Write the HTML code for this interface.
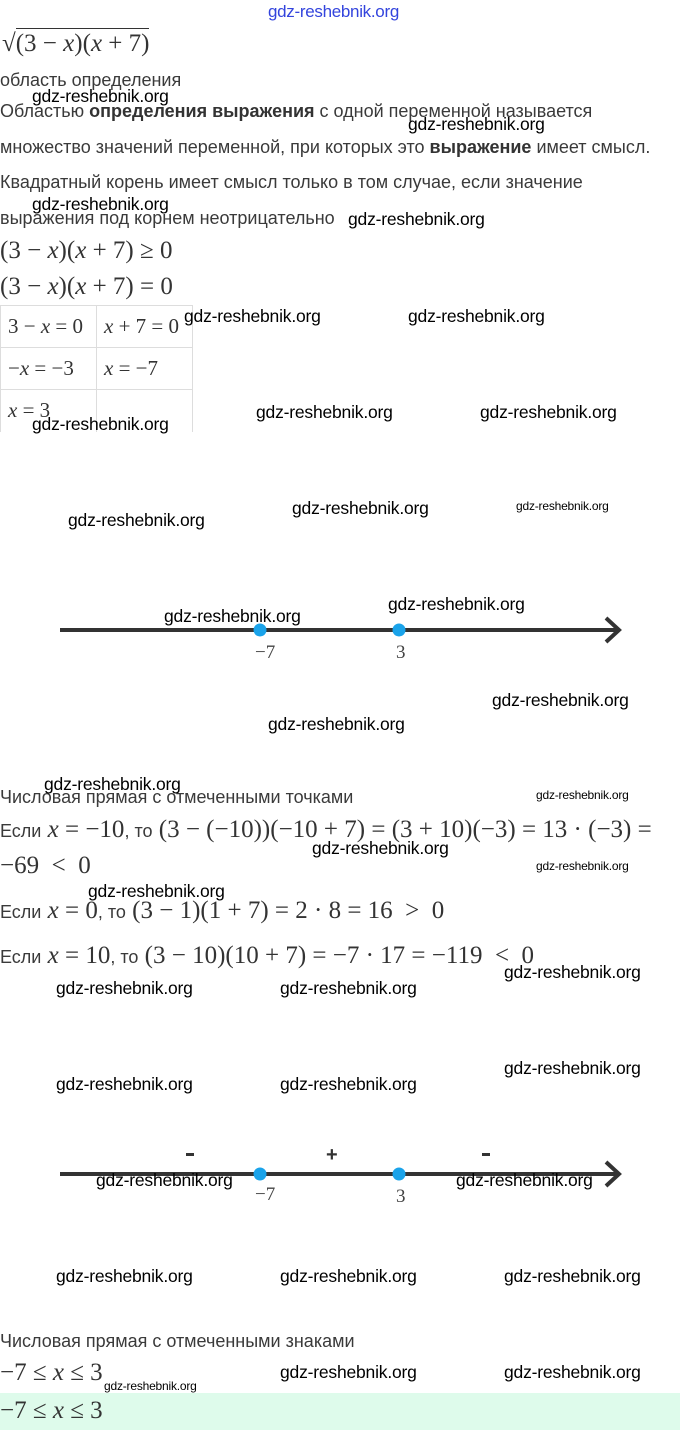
<!DOCTYPE html>
<html><head><meta charset="utf-8"><style>
html,body{margin:0;padding:0;background:#fff;}
body{width:680px;height:1430px;position:relative;overflow:hidden;font-family:"Liberation Sans","DejaVu Sans",sans-serif;color:#3a3a3a;}
.a{position:absolute;white-space:nowrap;}
.t{font-family:"Liberation Sans","DejaVu Sans",sans-serif;font-size:18px;line-height:20px;color:#3a3a3a;}
.m{font-family:"Liberation Serif",serif;font-size:25px;line-height:26px;color:#333;}
.m i{font-style:italic;}
.w{position:absolute;white-space:nowrap;font-family:"Liberation Sans",sans-serif;font-size:17.5px;line-height:20px;color:#000;letter-spacing:-0.2px;}
.ws{font-size:12px;line-height:13px;letter-spacing:-0.2px;}
b{color:#333;}
.tb{position:absolute;left:0;top:305px;border-collapse:collapse;}
.tb td{border:1px solid #ddd;width:96px;height:42px;padding:0 0 0 7px;box-sizing:border-box;font-family:"Liberation Serif",serif;font-size:21px;color:#333;}
</style></head><body>
<div class="a" style="left:268px;top:2px;font-size:17px;color:#3344dd;font-family:'Liberation Sans',sans-serif;letter-spacing:-0.3px;">gdz-reshebnik.org</div>
<div class="a m" style="left:2px;top:31px;">√<span style="border-top:1px solid #333;padding-top:1px;">(3 − <i>x</i>)(<i>x</i> + 7)</span></div>
<div class="a t" style="left:0;top:70px;">область определения</div>
<div class="a t" style="left:0;top:101px;">Областью <b>определения выражения</b> с одной переменной называется</div>
<div class="a t" style="left:0;top:137px;">множество значений переменной, при которых это <b>выражение</b> имеет смысл.</div>
<div class="a t" style="left:0;top:172px;">Квадратный корень имеет смысл только в том случае, если значение</div>
<div class="a t" style="left:0;top:208px;">выражения под корнем неотрицательно</div>
<div class="a m" style="left:0;top:238px;">(3 − <i>x</i>)(<i>x</i> + 7) ≥ 0</div>
<div class="a m" style="left:0;top:274px;">(3 − <i>x</i>)(<i>x</i> + 7) = 0</div>
<table class="tb"><tr><td>3 − <i>x</i> = 0</td><td><i>x</i> + 7 = 0</td></tr><tr><td>−<i>x</i> = −3</td><td><i>x</i> = −7</td></tr><tr><td style="height:40px;border-bottom:none"><i>x</i> = 3</td><td style="border-bottom:none"></td></tr></table>

<svg class="a" style="left:0;top:600px" width="680" height="80">
<line x1="60" y1="30" x2="618" y2="30" stroke="#333" stroke-width="4"/>
<polyline points="606,18 619,30 606,42" fill="none" stroke="#333" stroke-width="4"/>
<circle cx="260" cy="30" r="6.5" fill="#1aa3ea"/><circle cx="399" cy="30" r="6.5" fill="#1aa3ea"/>
<text x="255" y="58" font-family="Liberation Serif" font-size="19" fill="#444">−7</text>
<text x="396" y="58" font-family="Liberation Serif" font-size="19" fill="#444">3</text>
</svg>

<div class="a t" style="left:0;top:787px;">Числовая прямая с отмеченными точками</div>
<div class="a m" style="left:0;top:817px;"><span class="t">Если</span> <i>x</i> = −10<span class="t">, то</span> (3 − (−10))(−10 + 7) = (3 + 10)(−3) = 13 · (−3) =</div>
<div class="a m" style="left:0;top:853px;">−69 &nbsp;&lt;&nbsp; 0</div>
<div class="a m" style="left:0;top:898px;"><span class="t">Если</span> <i>x</i> = 0<span class="t">, то</span> (3 − 1)(1 + 7) = 2 · 8 = 16 &nbsp;&gt;&nbsp; 0</div>
<div class="a m" style="left:0;top:943px;"><span class="t">Если</span> <i>x</i> = 10<span class="t">, то</span> (3 − 10)(10 + 7) = −7 · 17 = −119 &nbsp;&lt;&nbsp; 0</div>

<svg class="a" style="left:0;top:1140px" width="680" height="80">
<line x1="60" y1="34" x2="618" y2="34" stroke="#333" stroke-width="4"/>
<polyline points="606,22 619,34 606,46" fill="none" stroke="#333" stroke-width="4"/>
<circle cx="260" cy="34" r="6.5" fill="#1aa3ea"/><circle cx="399" cy="34" r="6.5" fill="#1aa3ea"/>
<text x="255" y="60" font-family="Liberation Serif" font-size="19" fill="#444">−7</text>
<text x="396" y="62" font-family="Liberation Serif" font-size="19" fill="#444">3</text>
<rect x="186" y="13" width="8" height="3" fill="#333"/>
<rect x="482" y="13" width="8" height="3" fill="#333"/>
<text x="326" y="21" font-family="Liberation Sans" font-size="20" font-weight="bold" fill="#333">+</text>
</svg>

<div class="a t" style="left:0;top:1331px;">Числовая прямая с отмеченными знаками</div>
<div class="a m" style="left:0;top:1360px;">−7 ≤ <i>x</i> ≤ 3</div>
<div class="a" style="left:0;top:1393px;width:680px;height:37px;background:#defbeb;"></div>
<div class="a m" style="left:0;top:1398px;">−7 ≤ <i>x</i> ≤ 3</div>

<div class="w" style="left:32px;top:86px">gdz-reshebnik.org</div>
<div class="w" style="left:408px;top:114px">gdz-reshebnik.org</div>
<div class="w" style="left:32px;top:194px">gdz-reshebnik.org</div>
<div class="w" style="left:348px;top:209px">gdz-reshebnik.org</div>
<div class="w" style="left:184px;top:306px">gdz-reshebnik.org</div>
<div class="w" style="left:408px;top:306px">gdz-reshebnik.org</div>
<div class="w" style="left:32px;top:414px">gdz-reshebnik.org</div>
<div class="w" style="left:256px;top:402px">gdz-reshebnik.org</div>
<div class="w" style="left:480px;top:402px">gdz-reshebnik.org</div>
<div class="w" style="left:68px;top:510px">gdz-reshebnik.org</div>
<div class="w" style="left:292px;top:498px">gdz-reshebnik.org</div>
<div class="w ws" style="left:516px;top:500px">gdz-reshebnik.org</div>
<div class="w" style="left:164px;top:606px">gdz-reshebnik.org</div>
<div class="w" style="left:388px;top:594px">gdz-reshebnik.org</div>
<div class="w" style="left:492px;top:690px">gdz-reshebnik.org</div>
<div class="w" style="left:268px;top:714px">gdz-reshebnik.org</div>
<div class="w" style="left:44px;top:774px">gdz-reshebnik.org</div>
<div class="w ws" style="left:536px;top:789px">gdz-reshebnik.org</div>
<div class="w" style="left:312px;top:838px">gdz-reshebnik.org</div>
<div class="w ws" style="left:536px;top:860px">gdz-reshebnik.org</div>
<div class="w" style="left:88px;top:881px">gdz-reshebnik.org</div>
<div class="w" style="left:504px;top:962px">gdz-reshebnik.org</div>
<div class="w" style="left:56px;top:978px">gdz-reshebnik.org</div>
<div class="w" style="left:280px;top:978px">gdz-reshebnik.org</div>
<div class="w" style="left:56px;top:1074px">gdz-reshebnik.org</div>
<div class="w" style="left:280px;top:1074px">gdz-reshebnik.org</div>
<div class="w" style="left:504px;top:1058px">gdz-reshebnik.org</div>
<div class="w" style="left:96px;top:1170px">gdz-reshebnik.org</div>
<div class="w" style="left:456px;top:1170px">gdz-reshebnik.org</div>
<div class="w" style="left:56px;top:1266px">gdz-reshebnik.org</div>
<div class="w" style="left:280px;top:1266px">gdz-reshebnik.org</div>
<div class="w" style="left:504px;top:1266px">gdz-reshebnik.org</div>
<div class="w" style="left:280px;top:1362px">gdz-reshebnik.org</div>
<div class="w" style="left:504px;top:1362px">gdz-reshebnik.org</div>
<div class="w ws" style="left:104px;top:1380px">gdz-reshebnik.org</div>
</body></html>
